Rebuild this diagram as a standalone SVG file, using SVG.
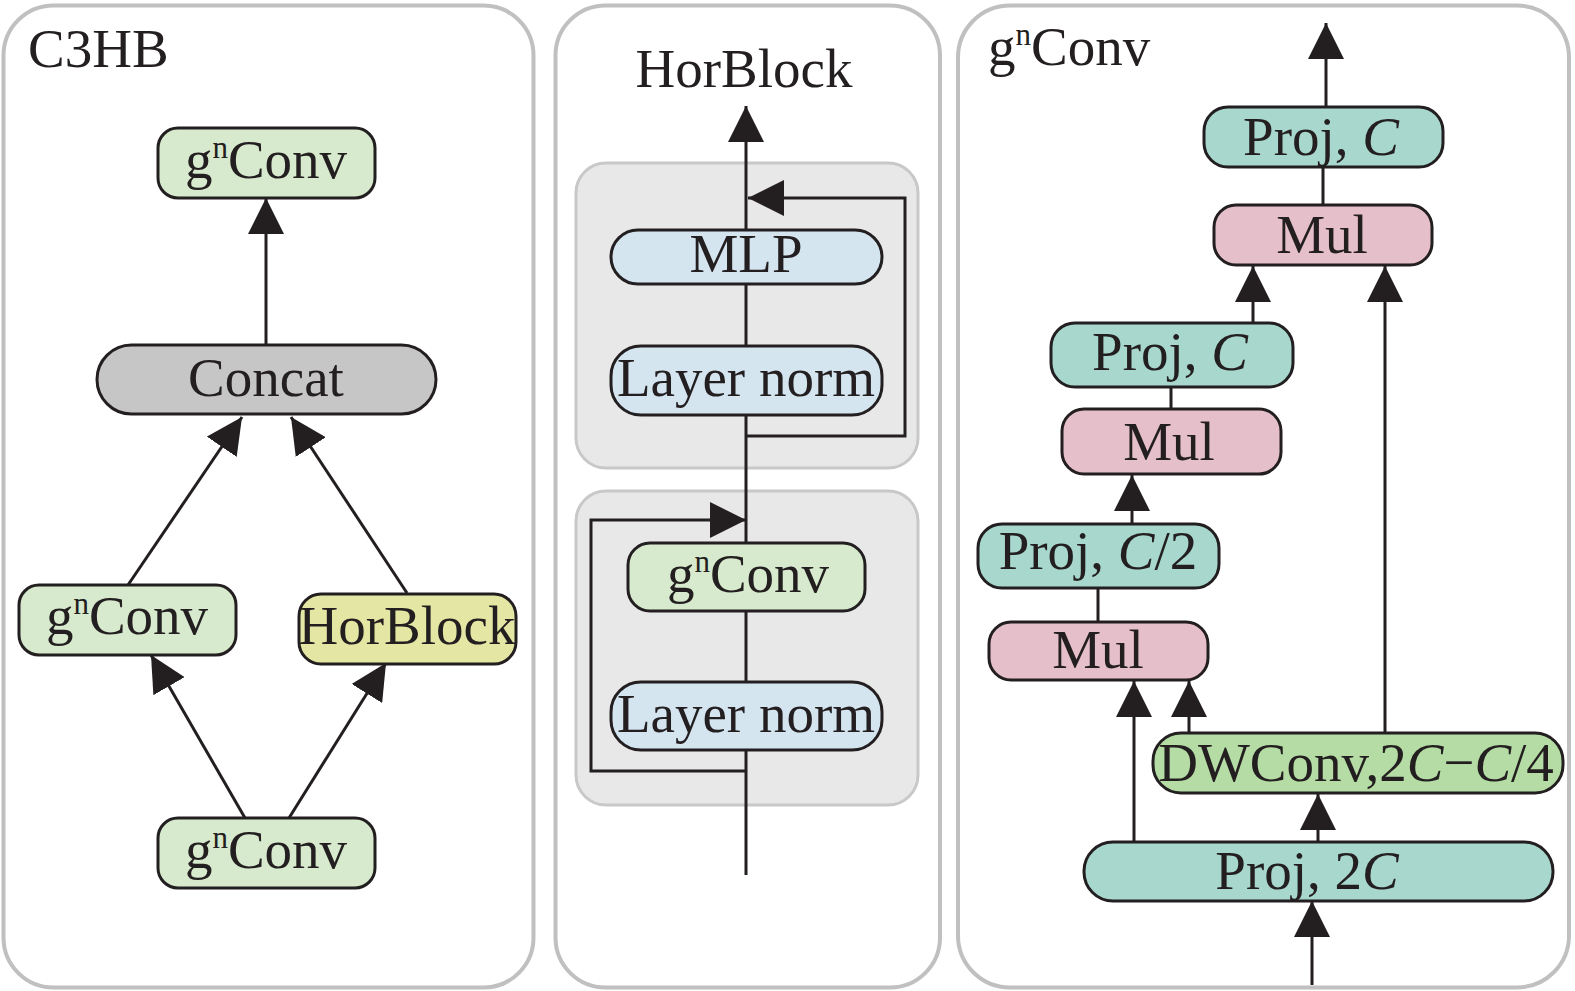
<svg xmlns="http://www.w3.org/2000/svg" width="1575" height="991" viewBox="0 0 1575 991">
<defs>
<marker id="ah" markerWidth="36" markerHeight="36" refX="36" refY="18" orient="auto" markerUnits="userSpaceOnUse"><path d="M0,0 L36,18 L0,36 z" fill="#231f20"/></marker>
</defs>
<style>
.panel{fill:#fff;stroke:#c0c0c0;stroke-width:4}
.sub{fill:#e8e8e8;stroke:#c8c8c8;stroke-width:3}
.box{stroke:#231f20;stroke-width:3}
text{font-family:"Liberation Serif","Times New Roman",serif;font-size:55px;fill:#231f20}
.c{text-anchor:middle}
.sup{font-size:31px}
.ln{fill:none;stroke:#231f20;stroke-width:3}
.arr{fill:none;stroke:#231f20;stroke-width:3;marker-end:url(#ah)}
.g{fill:#d7eacd}.gray{fill:#c6c6c6}.y{fill:#e4e7a4}.b{fill:#d4e5f0}.p{fill:#a7d7cd}.m{fill:#e5bfca}.dw{fill:#b5dca4}
</style>
<g id="panels">
<rect class="panel" x="3.5" y="5.5" width="530" height="982" rx="50"/>
<rect class="panel" x="555.5" y="5.5" width="384.5" height="982" rx="50"/>
<rect class="panel" x="958" y="5.5" width="611" height="982" rx="52"/>
<rect class="sub" x="576" y="163" width="342" height="305" rx="30"/>
<rect class="sub" x="576" y="491" width="342" height="314" rx="30"/>
<text x="28" y="67">C3HB</text>
<text class="c" x="744" y="87">HorBlock</text>
<text x="988" y="65">g<tspan class="sup" dy="-20">n</tspan><tspan dy="20">Conv</tspan></text>
</g>
<g id="connectors">
<path class="arr" d="M266,345 V198"/>
<path class="arr" d="M128,585 L242,417"/>
<path class="arr" d="M407,593 L291,417"/>
<path class="arr" d="M245,818 L151,655"/>
<path class="arr" d="M289,818 L386,663"/>
<path class="arr" d="M746,875 V106"/>
<path class="arr" d="M746,436 H905 V198 H748"/>
<path class="arr" d="M746,771 H591 V520 H746"/>
<path class="arr" d="M1326,108 V23"/>
<path class="ln" d="M1323,167 V205"/>
<path class="arr" d="M1253,323 V266"/>
<path class="arr" d="M1385,733 V266"/>
<path class="ln" d="M1171,387 V409"/>
<path class="arr" d="M1132,524 V475"/>
<path class="ln" d="M1098,588 V622"/>
<path class="arr" d="M1134,842 V681"/>
<path class="arr" d="M1189,733 V681"/>
<path class="arr" d="M1318,842 V794"/>
<path class="arr" d="M1312,985 V901"/>
</g>
<g id="n-c3hb-gnconv-top"><rect class="box g" x="158" y="128" width="217" height="70" rx="20"/><text class="c" x="266" y="178">g<tspan class="sup" dy="-20">n</tspan><tspan dy="20">Conv</tspan></text></g>
<g id="n-concat"><rect class="box gray" x="97" y="345" width="339" height="69" rx="34.5"/><text class="c" x="266" y="396">Concat</text></g>
<g id="n-c3hb-gnconv-left"><rect class="box g" x="19" y="585" width="217" height="70" rx="20"/><text class="c" x="127" y="634">g<tspan class="sup" dy="-20">n</tspan><tspan dy="20">Conv</tspan></text></g>
<g id="n-horblock"><rect class="box y" x="299" y="594" width="217" height="70" rx="22"/><text class="c" x="407" y="644">HorBlock</text></g>
<g id="n-c3hb-gnconv-bottom"><rect class="box g" x="158" y="818" width="217" height="70" rx="20"/><text class="c" x="266" y="868">g<tspan class="sup" dy="-20">n</tspan><tspan dy="20">Conv</tspan></text></g>
<g id="n-mlp"><rect class="box b" x="611" y="230" width="271" height="54" rx="27"/><text class="c" x="746" y="272">MLP</text></g>
<g id="n-ln1"><rect class="box b" x="611" y="346" width="271" height="69" rx="30"/><text class="c" x="746" y="396">Layer norm</text></g>
<g id="n-hb-gnconv"><rect class="box g" x="628" y="543" width="237" height="68" rx="22"/><text class="c" x="748" y="592">g<tspan class="sup" dy="-20">n</tspan><tspan dy="20">Conv</tspan></text></g>
<g id="n-ln2"><rect class="box b" x="611" y="682" width="271" height="68" rx="30"/><text class="c" x="746" y="732">Layer norm</text></g>
<g id="n-projc-top"><rect class="box p" x="1204" y="107" width="239" height="60" rx="24"/><text class="c" x="1321" y="155">Proj, <tspan font-style="italic">C</tspan></text></g>
<g id="n-mul-top"><rect class="box m" x="1214" y="205" width="218" height="60" rx="22"/><text class="c" x="1322" y="253">Mul</text></g>
<g id="n-projc-mid"><rect class="box p" x="1051" y="323" width="242" height="64" rx="24"/><text class="c" x="1170" y="370">Proj, <tspan font-style="italic">C</tspan></text></g>
<g id="n-mul-mid"><rect class="box m" x="1062" y="409" width="219" height="65" rx="22"/><text class="c" x="1169" y="460">Mul</text></g>
<g id="n-projc2"><rect class="box p" x="978" y="524" width="241" height="64" rx="24"/><text class="c" x="1098" y="569">Proj, <tspan font-style="italic">C</tspan>/2</text></g>
<g id="n-mul-low"><rect class="box m" x="989" y="622" width="219" height="58" rx="22"/><text class="c" x="1098" y="668">Mul</text></g>
<g id="n-dwconv"><rect class="box dw" x="1153" y="733" width="410" height="60" rx="28"/><text class="c" x="1356" y="781">DWConv,2<tspan font-style="italic">C</tspan>−<tspan font-style="italic">C</tspan>/4</text></g>
<g id="n-proj2c"><rect class="box p" x="1084" y="842" width="469" height="59" rx="29"/><text class="c" x="1307" y="889">Proj, 2<tspan font-style="italic">C</tspan></text></g>
</svg>
